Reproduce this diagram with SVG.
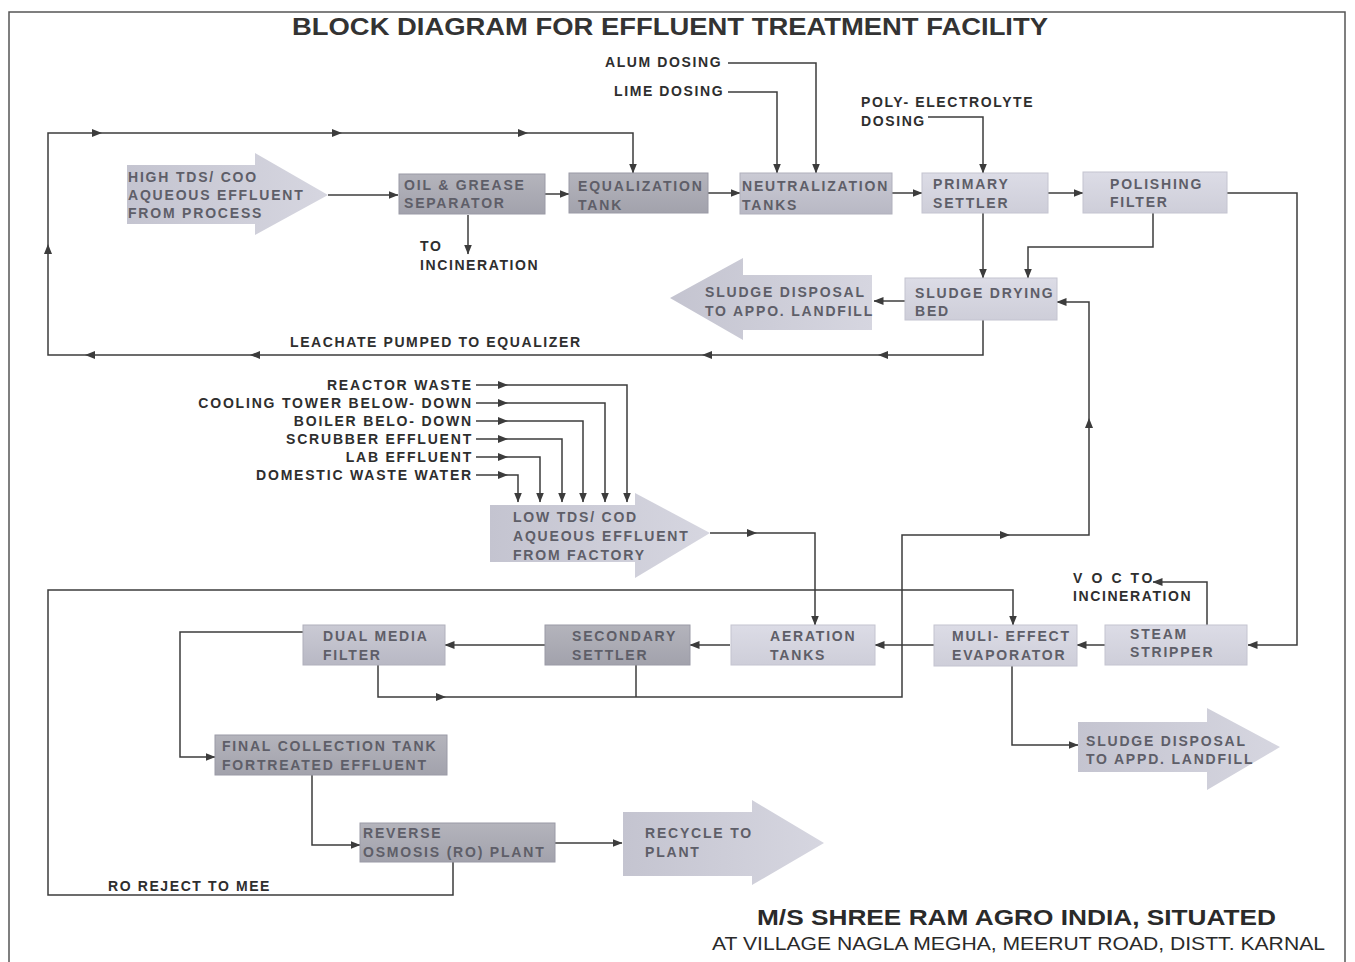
<svg xmlns="http://www.w3.org/2000/svg" width="1355" height="962" viewBox="0 0 1355 962" xmlns:xlink="http://www.w3.org/1999/xlink">
<style>
.ln{fill:none;stroke:#3c3c3c;stroke-width:1.5}
.lbl{font-family:"Liberation Sans",Arial,sans-serif;font-weight:bold;font-size:14px;letter-spacing:1.6px;fill:#2e2e2e}
.inp{font-family:"Liberation Sans",Arial,sans-serif;font-weight:bold;font-size:14px;letter-spacing:1.8px;fill:#2e2e2e;text-anchor:end}
.bt{font-family:"Liberation Sans",Arial,sans-serif;font-weight:bold;font-size:14px;letter-spacing:1.8px;fill:#5e5e68}
.dark{fill:url(#gDark);stroke:#9a9aa6;stroke-width:1}
.mid{fill:url(#gMid);stroke:#b0b0bc;stroke-width:1}
.light{fill:url(#gLight);stroke:#c4c4d0;stroke-width:1}
.arr{fill:url(#gArr);stroke:none}
</style>
<defs>
<linearGradient id="gDark" x1="0" y1="0" x2="0" y2="1"><stop offset="0" stop-color="#b4b4bc"/><stop offset="1" stop-color="#a2a2ac"/></linearGradient>
<linearGradient id="gMid" x1="0" y1="0" x2="0" y2="1"><stop offset="0" stop-color="#cacad4"/><stop offset="1" stop-color="#b8b8c4"/></linearGradient>
<linearGradient id="gLight" x1="0" y1="0" x2="0" y2="1"><stop offset="0" stop-color="#dcdce6"/><stop offset="1" stop-color="#ceced9"/></linearGradient>
<linearGradient id="gArr" x1="0" y1="0" x2="1" y2="0"><stop offset="0" stop-color="#c4c4d0"/><stop offset="1" stop-color="#d6d6e0"/></linearGradient>
<marker id="ah" markerWidth="10" markerHeight="8" refX="9.5" refY="4" orient="auto" markerUnits="userSpaceOnUse"><path d="M0,0 L10,4 L0,8 Z" fill="#3c3c3c"/></marker>
<path id="tri" d="M0,0 L-10,-4 L-10,4 Z" fill="#3c3c3c"/>
</defs>
<rect x="0" y="0" width="1355" height="962" fill="#ffffff"/>
<rect x="9" y="12" width="1336" height="960" fill="none" stroke="#555" stroke-width="1.5"/>

<text x="670" y="35" text-anchor="middle" textLength="756" lengthAdjust="spacingAndGlyphs" style="font-family:'Liberation Sans',Arial,sans-serif;font-weight:bold;font-size:23px;fill:#333">BLOCK DIAGRAM FOR EFFLUENT TREATMENT FACILITY</text>

<g id="connectors">
<path class="ln" d="M983,320 V355 H48 V133 H633 V173" marker-end="url(#ah)"/>
<use xlink:href="#tri" transform="translate(878,355) rotate(180)"/>
<use xlink:href="#tri" transform="translate(702,355) rotate(180)"/>
<use xlink:href="#tri" transform="translate(250,355) rotate(180)"/>
<use xlink:href="#tri" transform="translate(85,355) rotate(180)"/>
<use xlink:href="#tri" transform="translate(48,244) rotate(-90)"/>
<use xlink:href="#tri" transform="translate(102,133)"/>
<use xlink:href="#tri" transform="translate(342,133)"/>
<use xlink:href="#tri" transform="translate(528,133)"/>
<path class="ln" d="M328,195 H398" marker-end="url(#ah)"/>
<path class="ln" d="M468,215 V254" marker-end="url(#ah)"/>
<path class="ln" d="M545,194 H569" marker-end="url(#ah)"/>
<path class="ln" d="M707,193 H740" marker-end="url(#ah)"/>
<path class="ln" d="M728,63 H816 V173" marker-end="url(#ah)"/>
<path class="ln" d="M728,92 H777 V173" marker-end="url(#ah)"/>
<path class="ln" d="M892,193 H922" marker-end="url(#ah)"/>
<path class="ln" d="M928,117 H983 V173" marker-end="url(#ah)"/>
<path class="ln" d="M1048,193 H1083" marker-end="url(#ah)"/>
<path class="ln" d="M983,213 V278" marker-end="url(#ah)"/>
<path class="ln" d="M1153,213 V247 H1028 V278" marker-end="url(#ah)"/>
<path class="ln" d="M1227,193 H1297 V645 H1248" marker-end="url(#ah)"/>
<path class="ln" d="M905,301 H874" marker-end="url(#ah)"/>
<path class="ln" d="M1105,645 H1077" marker-end="url(#ah)"/>
<path class="ln" d="M1207,625 V582 H1153" marker-end="url(#ah)"/>
<path class="ln" d="M935,645 H875" marker-end="url(#ah)"/>
<path class="ln" d="M1012,665 V745 H1078" marker-end="url(#ah)"/>
<path class="ln" d="M730,645 H690" marker-end="url(#ah)"/>
<path class="ln" d="M545,645 H445" marker-end="url(#ah)"/>
<path class="ln" d="M303,632 H180 V757 H215" marker-end="url(#ah)"/>
<path class="ln" d="M378,665 V697 H902 V535 H1089 V302 H1057" marker-end="url(#ah)"/>
<use xlink:href="#tri" transform="translate(446,697)"/>
<use xlink:href="#tri" transform="translate(1010,535)"/>
<use xlink:href="#tri" transform="translate(1089,418) rotate(-90)"/>
<path class="ln" d="M636,665 V697"/>
<path class="ln" d="M710,533 H815 V625" marker-end="url(#ah)"/>
<use xlink:href="#tri" transform="translate(757,533)"/>
<path class="ln" d="M312,775 V845 H360" marker-end="url(#ah)"/>
<path class="ln" d="M555,843 H622" marker-end="url(#ah)"/>
<path class="ln" d="M453,862 V895 H48 V590 H1013 V625" marker-end="url(#ah)"/>
<path class="ln" d="M476,385 H627 V502" marker-end="url(#ah)"/>
<path class="ln" d="M476,403 H605 V502" marker-end="url(#ah)"/>
<path class="ln" d="M476,421 H583 V502" marker-end="url(#ah)"/>
<path class="ln" d="M476,439 H562 V502" marker-end="url(#ah)"/>
<path class="ln" d="M476,457 H540 V502" marker-end="url(#ah)"/>
<path class="ln" d="M476,475 H518 V502" marker-end="url(#ah)"/>
<use xlink:href="#tri" transform="translate(508,385)"/>
<use xlink:href="#tri" transform="translate(508,403)"/>
<use xlink:href="#tri" transform="translate(508,421)"/>
<use xlink:href="#tri" transform="translate(508,439)"/>
<use xlink:href="#tri" transform="translate(508,457)"/>
<use xlink:href="#tri" transform="translate(508,475)"/>
</g>

<g id="labels">
<text class="lbl" x="605" y="67">ALUM DOSING</text>
<text class="lbl" x="614" y="96">LIME DOSING</text>
<text class="lbl" x="861" y="107">POLY- ELECTROLYTE</text>
<text class="lbl" x="861" y="126">DOSING</text>
<text class="lbl" x="420" y="251">TO</text>
<text class="lbl" x="420" y="270">INCINERATION</text>
<text class="lbl" x="290" y="347">LEACHATE PUMPED TO EQUALIZER</text>
<text class="lbl" x="1073" y="583" style="letter-spacing:2.6px">V O C TO</text>
<text class="lbl" x="1073" y="601">INCINERATION</text>
<text class="lbl" x="108" y="891">RO REJECT TO MEE</text>
<text class="inp" x="473" y="390">REACTOR WASTE</text>
<text class="inp" x="473" y="408">COOLING TOWER BELOW- DOWN</text>
<text class="inp" x="473" y="426">BOILER BELO- DOWN</text>
<text class="inp" x="473" y="444">SCRUBBER EFFLUENT</text>
<text class="inp" x="473" y="462">LAB EFFLUENT</text>
<text class="inp" x="473" y="480">DOMESTIC WASTE WATER</text>
</g>

<g id="high-tds">
<polygon class="arr" points="127,165 255,165 255,153 328,195 255,235 255,224 127,224"/>
<text class="bt" x="128" y="182">HIGH TDS/ COO</text>
<text class="bt" x="128" y="200">AQUEOUS EFFLUENT</text>
<text class="bt" x="128" y="218">FROM PROCESS</text>
</g>
<g id="oil-grease">
<rect class="dark" x="399" y="174" width="146" height="40"/>
<text class="bt" x="404" y="190">OIL &amp; GREASE</text>
<text class="bt" x="404" y="208">SEPARATOR</text>
</g>
<g id="equalization">
<rect class="dark" x="569" y="173" width="139" height="40"/>
<text class="bt" x="578" y="191">EQUALIZATION</text>
<text class="bt" x="578" y="210">TANK</text>
</g>
<g id="neutralization">
<rect class="mid" x="740" y="173" width="152" height="41"/>
<text class="bt" x="742" y="191">NEUTRALIZATION</text>
<text class="bt" x="742" y="210">TANKS</text>
</g>
<g id="primary-settler">
<rect class="light" x="922" y="173" width="126" height="40"/>
<text class="bt" x="933" y="189">PRIMARY</text>
<text class="bt" x="933" y="208">SETTLER</text>
</g>
<g id="polishing-filter">
<rect class="light" x="1083" y="172" width="144" height="41"/>
<text class="bt" x="1110" y="189">POLISHING</text>
<text class="bt" x="1110" y="207">FILTER</text>
</g>
<g id="sludge-drying-bed">
<rect class="light" x="905" y="278" width="152" height="42"/>
<text class="bt" x="915" y="298">SLUDGE DRYING</text>
<text class="bt" x="915" y="316">BED</text>
</g>
<g id="sludge-disposal-top">
<polygon class="arr" points="872,275 743,275 743,258 670,298 743,340 743,330 872,330"/>
<text class="bt" x="705" y="297">SLUDGE DISPOSAL</text>
<text class="bt" x="705" y="316">TO APPO. LANDFILL</text>
</g>
<g id="low-tds">
<polygon class="arr" points="490,505 635,505 635,493 710,533 635,578 635,562 490,562"/>
<text class="bt" x="513" y="522">LOW TDS/ COD</text>
<text class="bt" x="513" y="541">AQUEOUS EFFLUENT</text>
<text class="bt" x="513" y="560">FROM FACTORY</text>
</g>
<g id="mee">
<rect class="light" x="934" y="625" width="143" height="41"/>
<text class="bt" x="952" y="641">MULI- EFFECT</text>
<text class="bt" x="952" y="660">EVAPORATOR</text>
</g>
<g id="steam-stripper">
<rect class="light" x="1105" y="625" width="142" height="40"/>
<text class="bt" x="1130" y="639">STEAM</text>
<text class="bt" x="1130" y="657">STRIPPER</text>
</g>
<g id="aeration">
<rect class="light" x="731" y="625" width="144" height="40"/>
<text class="bt" x="770" y="641">AERATION</text>
<text class="bt" x="770" y="660">TANKS</text>
</g>
<g id="secondary-settler">
<rect class="dark" x="545" y="625" width="145" height="40"/>
<text class="bt" x="572" y="641">SECONDARY</text>
<text class="bt" x="572" y="660">SETTLER</text>
</g>
<g id="dual-media">
<rect class="mid" x="303" y="625" width="142" height="40"/>
<text class="bt" x="323" y="641">DUAL MEDIA</text>
<text class="bt" x="323" y="660">FILTER</text>
</g>
<g id="sludge-disposal-bottom">
<polygon class="arr" points="1078,722 1207,722 1207,708 1280,747 1207,790 1207,772 1078,772"/>
<text class="bt" x="1086" y="746">SLUDGE DISPOSAL</text>
<text class="bt" x="1086" y="764">TO APPD. LANDFILL</text>
</g>
<g id="final-collection">
<rect class="dark" x="215" y="735" width="232" height="40"/>
<text class="bt" x="222" y="751">FINAL COLLECTION TANK</text>
<text class="bt" x="222" y="770">FORTREATED EFFLUENT</text>
</g>
<g id="ro-plant">
<rect class="dark" x="360" y="823" width="195" height="39"/>
<text class="bt" x="363" y="838">REVERSE</text>
<text class="bt" x="363" y="857">OSMOSIS (RO) PLANT</text>
</g>
<g id="recycle">
<polygon class="arr" points="623,812 752,812 752,800 824,843 752,885 752,876 623,876"/>
<text class="bt" x="645" y="838">RECYCLE TO</text>
<text class="bt" x="645" y="857">PLANT</text>
</g>

<text x="757" y="925" textLength="519" lengthAdjust="spacingAndGlyphs" style="font-family:'Liberation Sans',Arial,sans-serif;font-weight:bold;font-size:22px;fill:#2a2a2a">M/S SHREE RAM AGRO INDIA, SITUATED</text>
<text x="712" y="950" textLength="613" lengthAdjust="spacingAndGlyphs" style="font-family:'Liberation Sans',Arial,sans-serif;font-size:18px;fill:#2a2a2a">AT VILLAGE NAGLA MEGHA, MEERUT ROAD, DISTT. KARNAL</text>
</svg>
